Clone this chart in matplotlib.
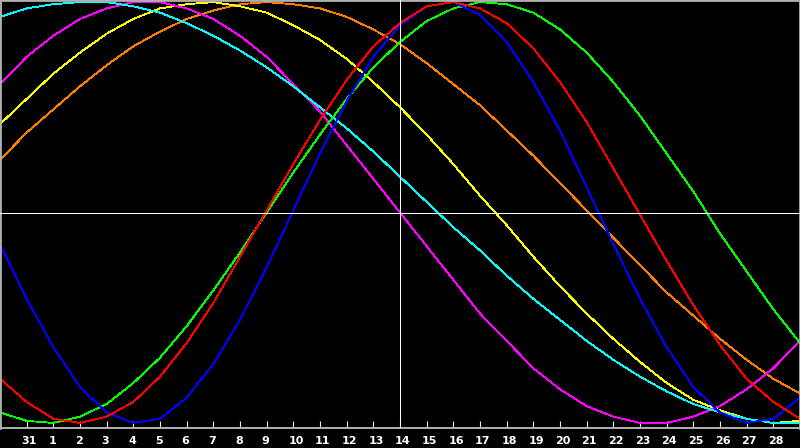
import matplotlib
matplotlib.use("Agg")
import matplotlib.pyplot as plt
from matplotlib.transforms import blended_transform_factory

# day index 0..30 (0 = 30 Jan, 1 = 31 Jan, 2 = 1 Feb ... 29 = 28 Feb, 30 = 1 Mar)
days = list(range(31))
tick_pos = list(range(1, 30))
tick_labels = ["31"] + [str(d) for d in range(1, 29)]

# values in percent (-100 .. 100), one per day
blue = [-15, -41, -64, -83, -95, -100, -98, -88, -72, -51, -26, 1, 28, 53, 74, 89,
        98, 100, 94, 81, 62, 39, 12, -15, -41, -64, -83, -95, -100, -98, -88]
red = [-79, -90, -98, -100, -97, -90, -78, -62, -43, -21, 1, 23, 44, 63, 79, 90,
       98, 100, 97, 90, 78, 62, 43, 21, -1, -23, -44, -63, -79, -90, -98]
green = [-95, -99, -100, -97, -91, -81, -69, -54, -37, -19, 0, 19, 37, 54, 69, 81,
         91, 97, 100, 99, 95, 87, 76, 62, 46, 28, 10, -10, -28, -46, -62]
cyan = [93, 97, 99, 100, 100, 98, 95, 90, 84, 77, 69, 60, 50, 40, 29, 17,
        5, -7, -18, -30, -41, -51, -61, -70, -78, -85, -91, -95, -98, -100, -100]
magenta = [61, 74, 84, 92, 97, 100, 100, 97, 92, 84, 74, 61, 48, 32, 16, 0,
           -16, -32, -48, -61, -74, -84, -92, -97, -100, -100, -97, -92, -84, -74, -61]
yellow = [42, 54, 66, 76, 85, 92, 97, 99, 100, 98, 95, 89, 82, 73, 62, 50,
          37, 23, 8, -6, -21, -35, -48, -60, -71, -81, -89, -94, -98, -100, -99]
orange = [25, 38, 49, 60, 70, 79, 86, 92, 96, 99, 100, 99, 97, 93, 87, 80,
          71, 61, 51, 39, 27, 14, 1, -12, -25, -38, -49, -60, -70, -79, -86]

series = [
    (orange, "#ff8000"),
    (yellow, "#ffff00"),
    (magenta, "#ff00ff"),
    (cyan, "#00ffff"),
    (green, "#00ff00"),
    (blue, "#0000ff"),
    (red, "#ff0000"),
]

fig = plt.figure(figsize=(8, 4.48), dpi=100, facecolor="black")
ax = fig.add_axes([0, 20 / 448, 1, 428 / 448])
ax.set_facecolor("black")
ax.set_xlim(0, 30)
ax.set_ylim(-102.4, 101.0)

for vals, col in series:
    ax.plot(days, vals, color=col, lw=0.6, antialiased=False, zorder=2)

ax.axhline(0, color="white", lw=0.6, antialiased=False, zorder=3)
ax.axvline(15, color="white", lw=0.6, antialiased=False, zorder=3)

for s in ax.spines.values():
    s.set_color("#b0b0b0")
    s.set_linewidth(2)
ax.spines["bottom"].set_linewidth(1.4)

ax.set_yticks([])
ax.set_xticks(tick_pos)
ax.set_xticklabels([""] * len(tick_pos))
ax.tick_params(axis="x", direction="in", length=5, width=0.8, color="#e8e8e8")

trans = blended_transform_factory(ax.transData, ax.transAxes)
for p, lab in zip(tick_pos, tick_labels):
    ax.text(p - 0.19, -15.5 / 428, lab, transform=trans, ha="left", va="baseline",
            color="white", fontsize=8, fontweight="bold",
            family="DejaVu Sans", clip_on=False)

fig.savefig("out.png", dpi=100, facecolor="black")
